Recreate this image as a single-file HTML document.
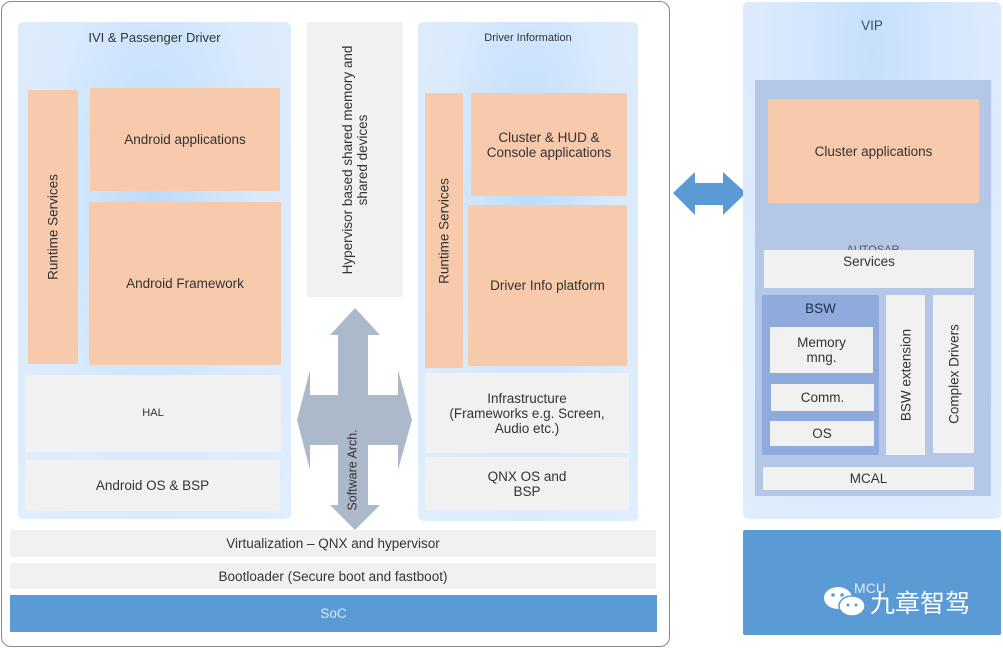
<!DOCTYPE html>
<html><head><meta charset="utf-8"><style>
body{margin:0;width:1003px;height:650px;background:#fff;position:relative;overflow:hidden;font-family:"Liberation Sans","Noto Sans CJK SC",sans-serif;color:#333;}
div{position:absolute;box-sizing:border-box;}
.c{display:flex;align-items:center;justify-content:center;text-align:center;font-size:13.5px;line-height:15px;}
.panel{background:radial-gradient(ellipse at 50% 35%,#bcdcfb 0%,#d9eafc 55%,#e0eefd 100%);border-radius:5px;}
.or{background:#f7caac;border-radius:2px;}
.gr{background:#f1f1f1;}
.rot{position:absolute;left:50%;top:50%;transform:translate(-50%,-50%) rotate(-90deg);white-space:nowrap;font-size:13.5px;line-height:15px;text-align:center;}
</style></head><body>
<div style="left:1px;top:1px;width:669px;height:646px;border:1.5px solid #8a8a8a;border-radius:10px;"></div>

<div class="panel" style="left:18px;top:22px;width:273px;height:497px;"></div>
<div class="c" style="left:18px;top:28px;width:273px;height:18px;font-size:13px;">IVI &amp; Passenger Driver</div>
<div class="or" style="left:28px;top:90px;width:50px;height:274px;"><span class="rot">Runtime Services</span></div>
<div class="or c" style="left:90px;top:88px;width:190px;height:103px;">Android applications</div>
<div class="or c" style="left:89px;top:202px;width:192px;height:163px;">Android Framework</div>
<div class="gr c" style="left:25px;top:375px;width:256px;height:77px;font-size:11px;">HAL</div>
<div class="gr c" style="left:25px;top:460px;width:255px;height:51px;">Android OS &amp; BSP</div>

<div class="gr" style="left:307px;top:22px;width:96px;height:275px;"><span class="rot">Hypervisor based shared memory and<br>shared devices</span></div>

<svg style="position:absolute;left:0;top:0" width="1003" height="650">
<polygon fill="#acb9ca" points="355,308 380,335 368,335 368,395 398,395 398,370 412,420 398,470 398,445 368,445 368,505 380,505 355,530 330,505 338,505 338,445 310,445 310,470 297,420 310,370 310,395 338,395 338,335 330,335"/>
<polygon fill="#5b9bd5" points="673,193 695,172 695,183 723,183 723,172 746,193 723,215 723,205 695,205 695,215"/>
</svg>
<div style="left:338px;top:420px;width:30px;height:100px;"><span class="rot" style="font-size:12.5px;">Software Arch.</span></div>

<div class="panel" style="left:418px;top:22px;width:220px;height:499px;"></div>
<div class="c" style="left:418px;top:30px;width:220px;height:16px;font-size:11px;">Driver Information</div>
<div class="or" style="left:425px;top:93px;width:38px;height:275px;"><span class="rot">Runtime Services</span></div>
<div class="or c" style="left:471px;top:93px;width:156px;height:103px;">Cluster &amp; HUD &amp;<br>Console applications</div>
<div class="or c" style="left:468px;top:205px;width:159px;height:161px;">Driver Info platform</div>
<div class="gr c" style="left:425px;top:373px;width:204px;height:80px;">Infrastructure<br>(Frameworks e.g. Screen,<br>Audio etc.)</div>
<div class="gr c" style="left:425px;top:457px;width:204px;height:53px;">QNX OS and<br>BSP</div>

<div class="gr c" style="left:10px;top:530px;width:646px;height:27px;">Virtualization – QNX and hypervisor</div>
<div class="gr c" style="left:10px;top:563px;width:646px;height:26px;">Bootloader (Secure boot and fastboot)</div>
<div class="c" style="left:10px;top:595px;width:647px;height:37px;background:#5b9bd5;color:#dce9f7;">SoC</div>

<div class="panel" style="left:743px;top:2px;width:258px;height:517px;background:radial-gradient(ellipse at 50% 10%,#c6e0fb 0%,#dbeafd 60%,#dfedfd 100%);"></div>
<div class="c" style="left:743px;top:16px;width:258px;height:18px;color:#2f4f7f;">VIP</div>
<div style="left:755px;top:80px;width:236px;height:416px;background:#b4c7e7;"></div>
<div class="or c" style="left:768px;top:99px;width:211px;height:104px;">Cluster applications</div>
<div class="c" style="left:755px;top:243px;width:236px;height:14px;font-size:11px;color:#555;">AUTOSAR</div>
<div class="gr c" style="left:764px;top:250px;width:210px;height:38px;align-items:flex-start;padding-top:4px;">Services</div>
<div style="left:762px;top:295px;width:117px;height:160px;background:#8faadc;border-radius:2px;"></div>
<div class="c" style="left:762px;top:299px;width:117px;height:18px;color:#1f2f4f;">BSW</div>
<div class="gr c" style="left:770px;top:327px;width:103px;height:46px;">Memory<br>mng.</div>
<div class="gr c" style="left:771px;top:384px;width:103px;height:27px;">Comm.</div>
<div class="gr c" style="left:770px;top:421px;width:104px;height:25px;">OS</div>
<div class="gr" style="left:886px;top:295px;width:39px;height:160px;"><span class="rot">BSW extension</span></div>
<div class="gr" style="left:933px;top:295px;width:41px;height:158px;"><span class="rot">Complex Drivers</span></div>
<div class="gr c" style="left:763px;top:467px;width:211px;height:23px;">MCAL</div>

<div style="left:743px;top:530px;width:258px;height:105px;background:#5b9bd5;border-radius:2px;"></div>
<div class="c" style="left:850px;top:578px;width:40px;height:20px;color:#dce9f7;font-size:14px;">MCU</div>
<svg style="position:absolute;left:822px;top:584px" width="46" height="36">
<ellipse cx="16" cy="14" rx="14" ry="11" fill="#fff"/>
<ellipse cx="30" cy="22" rx="13" ry="10" fill="#fff" stroke="#5b9bd5" stroke-width="1.5"/>
<circle cx="11" cy="11" r="1.8" fill="#5b9bd5"/><circle cx="20" cy="11" r="1.8" fill="#5b9bd5"/>
<circle cx="26" cy="21" r="1.5" fill="#5b9bd5"/><circle cx="34" cy="21" r="1.5" fill="#5b9bd5"/>
</svg>
<div style="left:870px;top:586px;width:110px;height:32px;color:#fff;font-size:25px;line-height:32px;font-family:'Noto Sans CJK SC','WenQuanYi Zen Hei',sans-serif;white-space:nowrap;">九章智驾</div>
</body></html>
